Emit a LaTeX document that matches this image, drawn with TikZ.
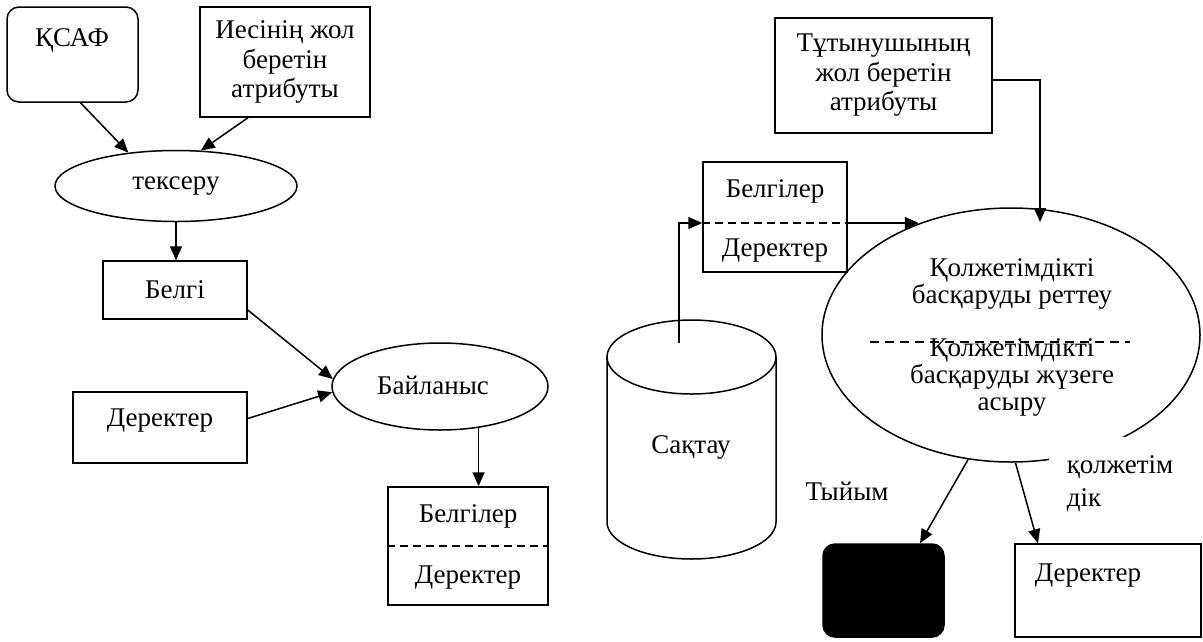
\documentclass[tikz,border=0pt]{standalone}
\usepackage{fontspec}
\setmainfont{Liberation Serif}
\usetikzlibrary{arrows.meta,shapes.geometric,calc}
\begin{document}
\begin{tikzpicture}[x=1pt,y=-1pt,line width=1.5pt,
  every node/.style={font=\fontsize{27}{29.5}\selectfont,inner sep=0pt,align=center},
  box/.style={draw,rectangle},
  rbox/.style={draw,rectangle,rounded corners=12pt},
  ell/.style={draw,ellipse,inner sep=0pt},
  arr/.style={-{Triangle[length=14pt,width=12pt]}},
  dashline/.style={dash pattern=on 8pt off 5pt},
  elldash/.style={dash pattern=on 9pt off 6pt}]
\useasboundingbox (0,0) rectangle (1203,641);

% ---- left chain: check, mark, link ----
\node[rbox,minimum width=131pt,minimum height=95pt] (ksaf) at (72.5,54.5) {};
\node (ksaft) at (72,40) {ҚСАФ};
\node[box,minimum width=170pt,minimum height=110pt] (owner) at (285,62)
  {Иесінің жол\\беретін\\атрибуты};
\node[ell,minimum width=242pt,minimum height=71pt] (check) at (176,186) {тексеру};
\node[box,minimum width=144pt,minimum height=58pt] (belgi) at (175,290) {Белгі};
\node[box,minimum width=174pt,minimum height=71pt] (data1) at (160,427.5) {};
\node (data1t) at (160,421) {Деректер};
\node[ell,minimum width=216pt,minimum height=87pt] (link) at (440,386.5) {};
\node (linkt) at (433,385) {Байланыс};
\node[box,minimum width=160pt,minimum height=118pt] (bel2) at (468,546) {};
\draw[dashline] (bel2.west) -- (bel2.east);
\node (bel2a) at (468,516) {Белгілер};
\node (bel2b) at (468,578) {Деректер};

\draw[arr] ($(ksaf.south)+(8,0)$) -- (check.145);
\draw[arr] ($(owner.south)+(-37,0)$) -- (check.55);
\draw[arr] (check.south) -- (check.south |- belgi.north);
\draw[arr] ($(belgi.east)+(0,20)$) -- (link.176);
\draw[arr] ($(data1.east)+(0,-9)$) -- (link.183);
\draw[arr] (link.-47.5) -- (link.-47.5 |- bel2.north);

% ---- right part: storage and access control ----
\node[box,minimum width=217pt,minimum height=115pt] (users) at (883.5,75.5)
  {Тұтынушының\\жол беретін\\атрибуты};
\node[box,minimum width=144pt,minimum height=110pt] (bel3) at (775,217) {};
\coordinate (bel3w) at ($(bel3.west)+(0,6)$);
\coordinate (bel3e) at ($(bel3.east)+(0,6)$);
\draw[dashline] (bel3w) -- (bel3e);
\node (bel3a) at (775,191) {Белгілер};
\node (bel3b) at (775,251) {Деректер};

% storage cylinder
\draw (607,357) -- (607,522) arc[start angle=180,end angle=0,x radius=84.5,y radius=37] -- (776,357);
\draw (691.5,357) ellipse[x radius=84.5,y radius=37];
\node (store) at (691,447) {Сақтау};
\coordinate (cyltop) at (679,343);

% access control ellipse
\node[ell,minimum width=378pt,minimum height=254pt] (acc) at (1011,335) {};
\node[font=\fontsize{27}{27.5}\selectfont] (acc1) at (1012,284) {Қолжетімдікті\\басқаруды реттеу};
\node[font=\fontsize{27}{27}\selectfont] (acc2) at (1012,377) {Қолжетімдікті\\басқаруды жүзеге\\асыру};
\draw[elldash] (870,342) -- (1130,342);
\fill[white] (1049,437) rectangle (1203,540);
\node[anchor=west,align=left,font=\fontsize{27}{33}\selectfont] (allow) at (1066,484) {қолжетім\\дік};
\node (denyt) at (847,491) {Тыйым};

\node[rbox,fill=black,minimum width=121pt,minimum height=93pt] (deny) at (883.5,590.5) {};
\node[box,minimum width=186pt,minimum height=93pt] (data2) at (1108,590.5) {};
\node (data2t) at (1088,576) {Деректер};

\draw[arr] ($(users.east)+(0,4.5)$) -| ($(acc.center)+(29,-113)$);
\draw[arr] (cyltop) |- (bel3w);
\draw[arr] (bel3e) -- ++(71,0);
\draw[arr] (acc.251.7) -- ($(deny.north)+(36.5,0)$);
\draw[arr] (acc.-88) -- ($(data2.north)+(-70,0)$);
\end{tikzpicture}
\end{document}
